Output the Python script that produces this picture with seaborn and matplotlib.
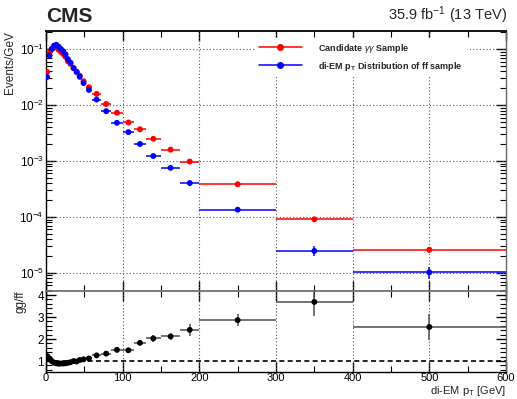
import numpy as np
import seaborn as sns
import matplotlib.pyplot as plt
from matplotlib.lines import Line2D
from matplotlib.ticker import LogLocator, MultipleLocator, NullFormatter

# bin edges of di-EM pT (GeV)
bin_edges = [0, 3, 6, 9, 12, 15, 18, 21, 24, 27, 30, 34, 38, 42, 46, 52, 60,
             72, 85, 100, 115, 130, 150, 175, 200, 300, 400, 600]

# Candidate gamma-gamma sample, events/GeV
gg_vals = [0.0393, 0.086, 0.101, 0.108, 0.108, 0.098, 0.0895, 0.082, 0.073,
           0.061, 0.0546, 0.046, 0.0388, 0.0337, 0.0268, 0.0209, 0.0159,
           0.0105, 0.0073, 0.0049, 0.0037, 0.0025, 0.0016, 0.00098,
           3.85e-4, 9.1e-5, 2.6e-5]
gg_errs = [8e-4, 1.7e-3, 2e-3, 2e-3, 2e-3, 2e-3, 1.8e-3, 1.6e-3, 1.5e-3,
           1.2e-3, 1.1e-3, 9e-4, 8e-4, 7e-4, 5e-4, 4e-4, 4e-4, 3e-4, 2.5e-4,
           2e-4, 1.7e-4, 1.2e-4, 9e-5, 6e-5, 2.5e-5, 9e-6, 3e-6]

# di-EM pT distribution of ff sample, events/GeV
ff_vals = [0.0320, 0.0768, 0.101, 0.116, 0.120, 0.111, 0.1006, 0.092, 0.081,
           0.0663, 0.0575, 0.046, 0.0396, 0.0321, 0.0248, 0.0187, 0.0126,
           0.0078, 0.00483, 0.00329, 0.00202, 0.00123, 7.55e-4, 4.05e-4,
           1.35e-4, 2.47e-5, 1.02e-5]
ff_errs = [7e-4, 1.5e-3, 2e-3, 2.3e-3, 2.4e-3, 2.2e-3, 2e-3, 1.8e-3, 1.6e-3,
           1.3e-3, 1.2e-3, 9e-4, 8e-4, 7e-4, 5e-4, 4e-4, 4e-4, 3e-4, 2.4e-4,
           1.7e-4, 1.2e-4, 9e-5, 6e-5, 4e-5, 1.1e-5, 5e-6, 2.5e-6]

# ratio gg/ff
ratio_vals = [1.23, 1.12, 1.0, 0.93, 0.90, 0.88, 0.89, 0.89, 0.90, 0.92, 0.95,
              1.0, 0.98, 1.05, 1.08, 1.12, 1.26, 1.34, 1.51, 1.49, 1.83, 2.03,
              2.12, 2.42, 2.86, 3.69, 2.55]
ratio_errs = [0.06, 0.04, 0.03, 0.03, 0.03, 0.03, 0.03, 0.03, 0.03, 0.03, 0.03,
              0.04, 0.04, 0.05, 0.05, 0.06, 0.07, 0.08, 0.09, 0.1, 0.12, 0.14,
              0.15, 0.27, 0.27, 0.64, 0.58]

edges = np.array(bin_edges, dtype=float)
centers = 0.5 * (edges[:-1] + edges[1:])
half_w = 0.5 * (edges[1:] - edges[:-1])

sns.set_theme(style="ticks")
plt.rcParams["font.family"] = ["Liberation Sans", "DejaVu Sans"]
plt.rcParams["mathtext.fontset"] = "custom"
plt.rcParams["mathtext.rm"] = "Liberation Sans"
plt.rcParams["mathtext.it"] = "Liberation Sans:italic"
plt.rcParams["mathtext.bf"] = "Liberation Sans:bold"

W, H = 517, 399
fig = plt.figure(figsize=(W / 100, H / 100), dpi=100)
left, right = 46 / W, 506 / W
split = 1 - 290.7 / H
ax = fig.add_axes([left, split, right - left, (1 - 31 / H) - split])
axr = fig.add_axes([left, 1 - 372.3 / H, right - left, split - (1 - 372.3 / H)])

grid_kw = dict(color="0.35", linestyle=(0, (1, 2)), linewidth=0.8)

# upper panel
for vals, errs, col in [(gg_vals, gg_errs, "red"), (ff_vals, ff_errs, "blue")]:
    ax.errorbar(centers, vals, xerr=half_w, yerr=errs, fmt="none",
                ecolor=col, elinewidth=1.1, zorder=3)
    sns.scatterplot(x=centers, y=vals, ax=ax, color=col, s=18,
                    edgecolor="none", zorder=4, legend=False)
ax.set_yscale("log")
ax.set_xlim(0, 600)
ax.set_ylim(4.8e-6, 0.212)
ax.set_xticks(range(0, 601, 100))
ax.xaxis.set_minor_locator(MultipleLocator(50))
ax.xaxis.set_major_formatter(NullFormatter())
ax.yaxis.set_major_locator(LogLocator(base=10, numticks=10))
ax.yaxis.set_minor_locator(LogLocator(base=10, subs=np.arange(2, 10), numticks=20))
ax.yaxis.set_minor_formatter(NullFormatter())
for x in range(100, 600, 100):
    ax.axvline(x, zorder=1, **grid_kw)
for y in [1e-1, 1e-2, 1e-3, 1e-4, 1e-5]:
    ax.axhline(y, zorder=1, **grid_kw)
ax.set_ylabel("Events/GeV", fontsize=8.5)
ax.yaxis.set_label_coords(-0.066, 1.0)
ax.yaxis.label.set_horizontalalignment("right")

# ratio panel
axr.errorbar(centers, ratio_vals, xerr=half_w, yerr=ratio_errs, fmt="none",
             ecolor="0.3", elinewidth=1.1, zorder=3)
sns.scatterplot(x=centers, y=ratio_vals, ax=axr, color="black", s=18,
                edgecolor="none", zorder=4, legend=False)
axr.axhline(1.0, color="black", linestyle=(0, (3, 2)), linewidth=1.2, zorder=2)
for x in range(100, 600, 100):
    axr.axvline(x, zorder=1, **grid_kw)
axr.set_xlim(0, 600)
axr.set_ylim(0.49, 4.2)
axr.set_xticks(range(0, 601, 100))
axr.xaxis.set_minor_locator(MultipleLocator(50))
axr.set_yticks([1, 2, 3, 4])
axr.yaxis.set_minor_locator(MultipleLocator(0.2))
axr.set_ylabel("gg/ff", fontsize=8.5)
axr.yaxis.set_label_coords(-0.042, 1.0)
axr.yaxis.label.set_horizontalalignment("right")
axr.set_xlabel("di-EM p$_{\\mathregular{T}}$ [GeV]", fontsize=8)
axr.xaxis.set_label_coords(1.0, -0.14)
axr.xaxis.label.set_horizontalalignment("right")

for a in (ax, axr):
    a.tick_params(which="both", direction="in", top=True, right=True,
                  labelsize=8.5, colors="black", pad=1.5)
    a.tick_params(which="major", length=7, width=1)
    a.tick_params(which="minor", length=4, width=0.8)
    for s in a.spines.values():
        s.set_color("black")
        s.set_linewidth(1.0)
    a.spines["right"].set_color("0.4")
    a.spines["top"].set_linewidth(1.3)
    a.set_facecolor("white")
axr.tick_params(axis="x", labelsize=8, pad=0.5)
ax.spines["bottom"].set_color("0.45")
axr.spines["top"].set_color("0.45")

handles = [
    Line2D([], [], color="red", marker="o", markersize=4, lw=1.1),
    Line2D([], [], color="blue", marker="o", markersize=4, lw=1.1),
]
labels = ["Candidate $\\gamma\\gamma$ Sample",
          "di-EM p$_{\\mathregular{T}}$ Distribution of ff sample"]
leg = ax.legend(handles, labels, loc="upper left",
                bbox_to_anchor=(250 / W, 1 - 33 / H),
                bbox_transform=fig.transFigure,
                prop={"weight": "bold", "size": 6.5},
                handlelength=4.8, handletextpad=1.8, labelspacing=0.55,
                borderpad=0.45, frameon=True, fancybox=False)
leg.get_frame().set_edgecolor("none")
leg.get_frame().set_facecolor("white")
leg.get_frame().set_alpha(1)
leg.set_zorder(5)

fig.text(46 / W, 1 - 16 / H, "CMS", fontsize=15, fontweight="bold",
         ha="left", va="center")
fig.text(507 / W, 1 - 15 / H, "35.9 fb$^{\\mathregular{-1}}$ (13 TeV)",
         fontsize=10.5, ha="right", va="center")

fig.savefig("out.png", dpi=100)
